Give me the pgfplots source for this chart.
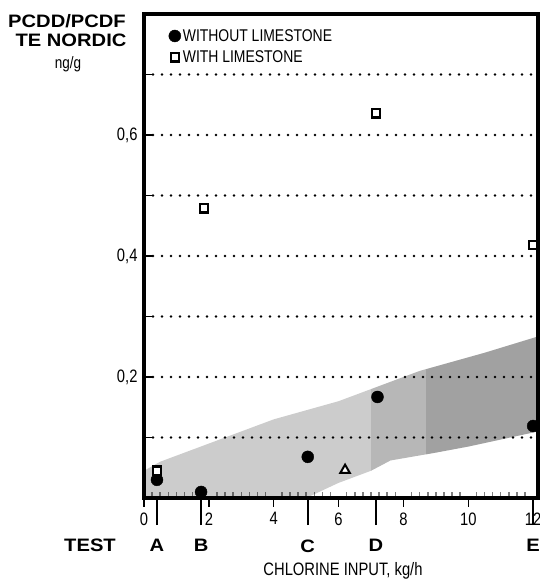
\documentclass[border=0pt]{standalone}
\usepackage{fontspec}
\setmainfont{Liberation Sans}[FakeStretch=0.82]
\newfontfamily\widebf{Liberation Sans}[FakeStretch=1.12]
\usepackage{pgfplots}
\pgfplotsset{compat=1.18}

\newcommand\bigbold{\widebf\bfseries\fontsize{18bp}{20bp}\selectfont}
\newcommand\regtext{\fontsize{18bp}{20bp}\selectfont}

\begin{document}
\begin{tikzpicture}[x=1bp,y=1bp]
\useasboundingbox (0,0) rectangle (540,582);
\begin{axis}[
    name=ax,
    at={(144bp,84bp)}, anchor=south west,
    scale only axis, width=394bp, height=484bp,
    xmin=0, xmax=12.15, ymin=0, ymax=0.8,
    xtick={0,2,4,6,8,10,12},
    xticklabels={0,2,4,6,8,10,12},
    ytick={0.1,0.2,0.3,0.4,0.5,0.6,0.7},
    yticklabels={,{0,2},,{0,4},,{0,6},},
    xtick pos=bottom, ytick pos=left,
    xtick align=outside, ytick align=inside,
    major tick length=9bp,
    minor x tick num=7, minor tick length=6bp,
    minor x tick style={yshift=6bp, line width=1.5bp},
    major tick style={line width=1.5bp, black},
    ymajorgrids,
    major grid style={line width=2.6bp, line cap=round, dash pattern=on 0bp off 9bp, black},
    tick label style={font=\regtext},
    xticklabel style={yshift=-2bp},
    yticklabel style={xshift=-3bp},
    extra x ticks={0.4,1.76,5.05,7.15,12},
    extra x tick labels={A,B,C,D,E},
    extra x tick style={grid=none, major tick length=27bp,
        xticklabel style={font=\bigbold, yshift=-9bp}},
    legend style={draw=none, fill=white, at={(0.06,0.975)}, anchor=north west,
        font=\fontsize{17bp}{18bp}\selectfont, row sep=4bp, inner sep=1bp,
        nodes={inner sep=2bp}},
    legend cell align=left,
]
% shaded band
\addplot [draw=none, fill=black, fill opacity=0.2, forget plot] coordinates {
    (0,0.045) (0.5,0.06) (2,0.09) (4,0.13) (6,0.16) (8.5,0.21) (10.5,0.24) (12.15,0.267)
    (12.15,0.110) (10,0.085) (9,0.075) (7.6,0.062) (7,0.045) (6,0.025) (5,0) (0,0)
} -- cycle;
\addplot [draw=none, fill=black, fill opacity=0.1, forget plot] coordinates {
    (7,0.180) (8.5,0.21) (10.5,0.24) (12.15,0.267)
    (12.15,0.110) (10,0.085) (9,0.075) (7.6,0.062) (7,0.045)
} -- cycle;
\addplot [draw=none, fill=black, fill opacity=0.12, forget plot] coordinates {
    (8.7,0.213) (10.5,0.24) (12.15,0.267)
    (12.15,0.110) (10,0.085) (8.7,0.072)
} -- cycle;
% without limestone
\addplot [only marks, mark=*, mark size=6bp, black] coordinates {
    (0.4,0.030) (1.76,0.010) (5.05,0.068) (7.2,0.167) (12,0.119)
};
% with limestone
\addplot [only marks, mark=square*, mark size=4.2bp, line width=2.2bp,
    draw=black, fill=white] coordinates {
    (0.4,0.045) (1.85,0.479) (7.15,0.636) (12,0.418)
};
% test F
\addplot [only marks, mark=triangle*, mark size=5.5bp, line width=2bp,
    draw=black, fill=white, forget plot] coordinates {(6.2,0.046)};
\legend{WITHOUT LIMESTONE, WITH LIMESTONE}
\node[font=\bigbold] at (axis cs:6.2,0) [yshift=-47bp] {F};
\end{axis}
% heavy frame
\draw[line width=4bp, black] (ax.south west) rectangle (ax.north east);
\node[font=\bigbold] at (67,561) {PCDD/PCDF};
\node[font=\bigbold] at (71,542) {TE NORDIC};
\node[font=\fontsize{16.5bp}{18bp}\selectfont] at (68,518) {ng/g};
\node[font=\bigbold] at (90,37) {TEST};
\node[font=\regtext] at (343,11) {CHLORINE INPUT, kg/h};
\end{tikzpicture}
\end{document}
